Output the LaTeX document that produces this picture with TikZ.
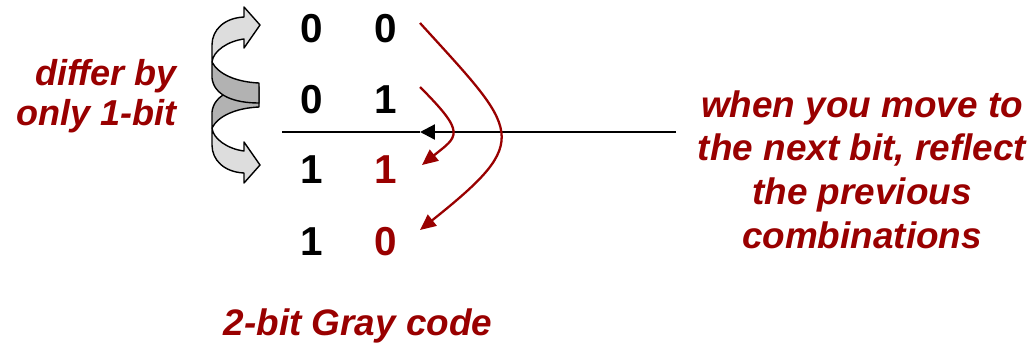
\documentclass[tikz,border=0pt]{standalone}
\usepackage{fontspec}
\setmainfont{Liberation Sans}
\usetikzlibrary{arrows.meta}
\definecolor{graycodered}{RGB}{153,0,0}
\definecolor{ribbonlight}{RGB}{221,221,221}
\definecolor{ribbondark}{RGB}{178,178,178}

\begin{document}
\begin{tikzpicture}[x=0.02cm,y=-0.02cm,
  digit/.style={anchor=base,inner sep=0pt,font=\fontsize{23}{26}\selectfont\bfseries},
  note/.style={text=graycodered,inner sep=0pt,font=\fontsize{21}{24.8}\selectfont\bfseries\itshape},
  reflect/.style={graycodered,line width=1.3pt,-{Triangle[length=9pt,width=8pt]}}]
  \useasboundingbox (0,0) rectangle (1031,346);
  % two curved ribbon arrows, the lower one is the mirror of the upper one
  \foreach \s/\d in {-1/190,1/0}{
    \begin{scope}[shift={(0,\d)},yscale=\s,line width=0.8pt,line join=round]
      \filldraw[fill=ribbondark] (212,62) .. controls (218,74) and (236,82) .. (259,83)
        -- (259,103) .. controls (235,103) and (214,96) .. (212,78) -- cycle;
      \filldraw[fill=ribbonlight] (244,7) -- (260,25) -- (244,48) -- (244,39)
        .. controls (228,41) and (213,51) .. (212,62) -- (212,45)
        .. controls (212,30) and (224,18) .. (244,17) -- cycle;
    \end{scope}}
  % the code words
  \node[digit] (r1a) at (312,42) {0};
  \node[digit] (r1b) at (386,42) {0};
  \node[digit] (r2a) at (312,113) {0};
  \node[digit] (r2b) at (386,113) {1};
  \node[digit] (r3a) at (312,183) {1};
  \node[digit,text=graycodered] (r3b) at (386,183) {1};
  \node[digit] (r4a) at (312,255) {1};
  \node[digit,text=graycodered] (r4b) at (386,255) {0};
  % notes
  \node[note,font=\fontsize{20.5}{22.7}\selectfont\bfseries\itshape,align=right,anchor=base east] (differ) at (177,125) {differ by\\only 1-bit};
  \node[note,align=center,anchor=base] (mirror) at (862,248) {when you move to\\the next bit, reflect\\the previous\\combinations};
  \node[note,anchor=base] (title) at (358,335) {2-bit Gray code};
  % mirror line
  \coordinate (sepL) at (282,132);
  \coordinate (sepR) at (420,132);
  \coordinate (hit) at (676,132);
  \draw[line width=1.3pt] (sepL) -- (sepR);
  \draw[line width=1.3pt,-{Triangle[length=8.5pt,width=8.5pt]}] (hit) -- (sepR);
  % reflected bits
  \coordinate (from1) at (420,23);
  \coordinate (to1) at (420,230);
  \coordinate (from2) at (420,87);
  \coordinate (to2) at (422,165);
  \draw[reflect] (from1) .. controls (519,132) and (534,139) .. (to1);
  \draw[reflect] (from2) .. controls (467,134) and (458,136) .. (to2);
\end{tikzpicture}
\end{document}
